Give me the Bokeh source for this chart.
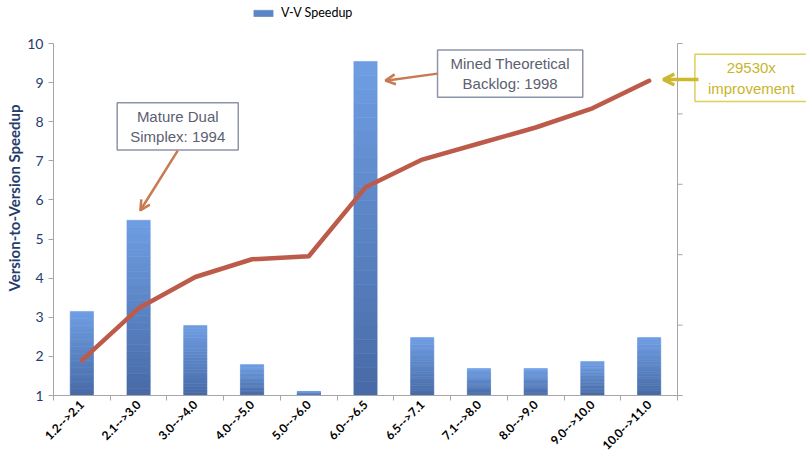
import math
from bokeh.plotting import figure
from bokeh.models import (Range1d, FixedTicker, LogScale, Label, Arrow, OpenHead,
                          Legend, LegendItem, ColumnDataSource)
from bokeh.embed import file_html
from bokeh.resources import INLINE

versions = ["1.2-->2.1", "2.1-->3.0", "3.0-->4.0", "4.0-->5.0", "5.0-->6.0", "6.0-->6.5",
            "6.5-->7.1", "7.1-->8.0", "8.0-->9.0", "9.0-->10.0", "10.0-->11.0"]
speedup = [3.15, 5.48, 2.79, 1.79, 1.10, 9.54, 2.48, 1.69, 1.69, 1.87, 2.48]
cumulative = [3.15, 17.3, 48.2, 86.2, 94.9, 905, 2244, 3793, 6410, 11990, 29530]
left_ticks = [1, 2, 3, 4, 5, 6, 7, 8, 9, 10]
right_ticks = [1, 10, 100, 1000, 10000, 100000]

n = len(versions)
xc = [i + 0.5 for i in range(n)]
X_MAX = n * 753 / 624          # frame spans the full width; category area ends at n
Y_TOP = 1 + 395 / (352 / 9)    # frame reaches the top edge; axis area ends at 10
LOG_TOP = 10 ** (5 * (Y_TOP - 1) / 9)

p = figure(width=806, height=460, output_backend="svg", toolbar_location=None,
           x_range=Range1d(0, X_MAX), y_range=Range1d(1, Y_TOP),
           min_border_left=53, min_border_right=0, min_border_top=0, min_border_bottom=65)
p.extra_y_ranges = {"cum": Range1d(1, LOG_TOP)}
p.extra_y_scales = {"cum": LogScale()}
p.xgrid.visible = False
p.ygrid.visible = False
p.outline_line_color = None
p.background_fill_color = "white"
p.border_fill_color = "white"


def mix(c1, c2, t):
    a = [int(c1[i:i + 2], 16) for i in (1, 3, 5)]
    b = [int(c2[i:i + 2], 16) for i in (1, 3, 5)]
    return "#%02x%02x%02x" % tuple(round(a[k] + (b[k] - a[k]) * t) for k in range(3))


# gradient bars (light top, darker bottom), built as stacked slices of each bar
TOPC, BOTC = "#6f9ee3", "#476aa6"
S = 24
gx, gb, gt, gc = [], [], [], []
for x, v in zip(xc, speedup):
    for k in range(S):
        gx.append(x)
        gb.append(1 + (v - 1) * k / S)
        gt.append(1 + (v - 1) * (k + 1) / S)
        gc.append(mix(BOTC, TOPC, (k + 0.5) / S))
bsrc = ColumnDataSource(dict(x=gx, bottom=gb, top=gt, color=gc))
bars = p.vbar(x="x", bottom="bottom", top="top", width=0.41, source=bsrc,
              fill_color="color", line_color="color", line_width=0.6)

src = ColumnDataSource(dict(x=xc, cum=cumulative))
p.line(x="x", y="cum", source=src, y_range_name="cum", line_color="#bd5b4b",
       line_width=4.5, line_cap="round", line_join="round")

# x axis
xa = p.xaxis[0]
xa.bounds = (0, n + 0.09)
xa.ticker = FixedTicker(ticks=xc, minor_ticks=list(range(n + 1)))
xa.major_label_overrides = {x: v for x, v in zip(xc, versions)}
xa.major_label_orientation = math.pi / 4
xa.major_tick_out = 0
xa.major_tick_in = 0
xa.minor_tick_out = 5
xa.minor_tick_in = 0
xa.minor_tick_line_color = "#a6a6a6"
xa.axis_line_color = "#a6a6a6"
xa.major_label_text_font = "Lato"
xa.major_label_text_font_style = "bold"
xa.major_label_text_font_size = "12px"
xa.major_label_text_color = "#000000"
xa.major_label_standoff = 2

ya = p.yaxis[0]
ya.bounds = (1, 10)
ya.ticker = FixedTicker(ticks=left_ticks, minor_ticks=[])
ya.axis_line_color = "#a6a6a6"
ya.major_tick_line_color = "#a6a6a6"
ya.major_tick_out = 5
ya.major_tick_in = 0
ya.major_label_text_font = "Lato"
ya.major_label_text_font_size = "14px"
ya.major_label_text_color = "#253c6e"
ya.major_label_standoff = 5
ya.axis_label = "Version-to-Version Speedup"
ya.axis_label_text_font = "Lato"
ya.axis_label_text_font_style = "bold"
ya.axis_label_text_font_size = "15px"
ya.axis_label_text_color = "#253c6e"
ya.axis_label_standoff = 1

# secondary (cumulative, log) axis at the end of the category area
TICK = 5 / (753 / X_MAX)
p.segment(x0=n, x1=n, y0=right_ticks[0], y1=right_ticks[-1], y_range_name="cum",
          line_color="#a6a6a6", line_width=1)
p.segment(x0=[n] * len(right_ticks), x1=[n + TICK] * len(right_ticks),
          y0=right_ticks, y1=right_ticks, y_range_name="cum",
          line_color="#a6a6a6", line_width=1)

legend = Legend(items=[LegendItem(label="V-V Speedup", renderers=[bars], index=S // 2)],
                location=(198, 375), orientation="horizontal",
                background_fill_alpha=0, border_line_color=None,
                glyph_width=24, glyph_height=8, padding=2, margin=0,
                label_text_font="Lato", label_text_font_size="12.5px",
                label_text_color="#000000", label_standoff=6)
p.add_layout(legend, "center")


def box(x, y, text, tcolor, bcolor):
    shadow = Label(x=x, y=y, x_offset=2, y_offset=-2, text=text, text_align="center",
                   text_baseline="middle", text_font="Liberation Sans", text_font_size="15px",
                   text_color=None, background_fill_color="#c8c8c8", background_fill_alpha=0.6,
                   padding=(13, 5))
    lab = Label(x=x, y=y, text=text, text_align="center", text_baseline="middle",
                text_font="Liberation Sans", text_font_size="15px", text_color=tcolor,
                background_fill_color="white", border_line_color=bcolor, border_line_width=1.5,
                padding=(13, 5))
    p.add_layout(shadow)
    p.add_layout(lab)


box(2.19, 7.88, "Mature Dual\nSimplex: 1994", "#5b6170", "#8e95ab")
box(8.05, 9.23, "Mined Theoretical\nBacklog: 1998", "#5b6170", "#8e95ab")
box(12.30, 9.12, "29530x\nimprovement", "#c9b52c", "#dccf5a")

p.add_layout(Arrow(x_start=2.19, y_start=7.26, x_end=1.53, y_end=5.73,
                   line_color="#c87a52", line_width=2.5,
                   end=OpenHead(size=10, line_color="#c87a52", line_width=2.5)))
p.add_layout(Arrow(x_start=6.77, y_start=9.23, x_end=5.85, y_end=9.05,
                   line_color="#c87a52", line_width=2.5,
                   end=OpenHead(size=10, line_color="#c87a52", line_width=2.5)))
p.add_layout(Arrow(x_start=11.37, y_start=9.08, x_end=10.75, y_end=9.08,
                   line_color="#cdb92e", line_width=3.5,
                   end=OpenHead(size=11, line_color="#cdb92e", line_width=3.5)))

open("out.html", "w").write(file_html(p, INLINE))
